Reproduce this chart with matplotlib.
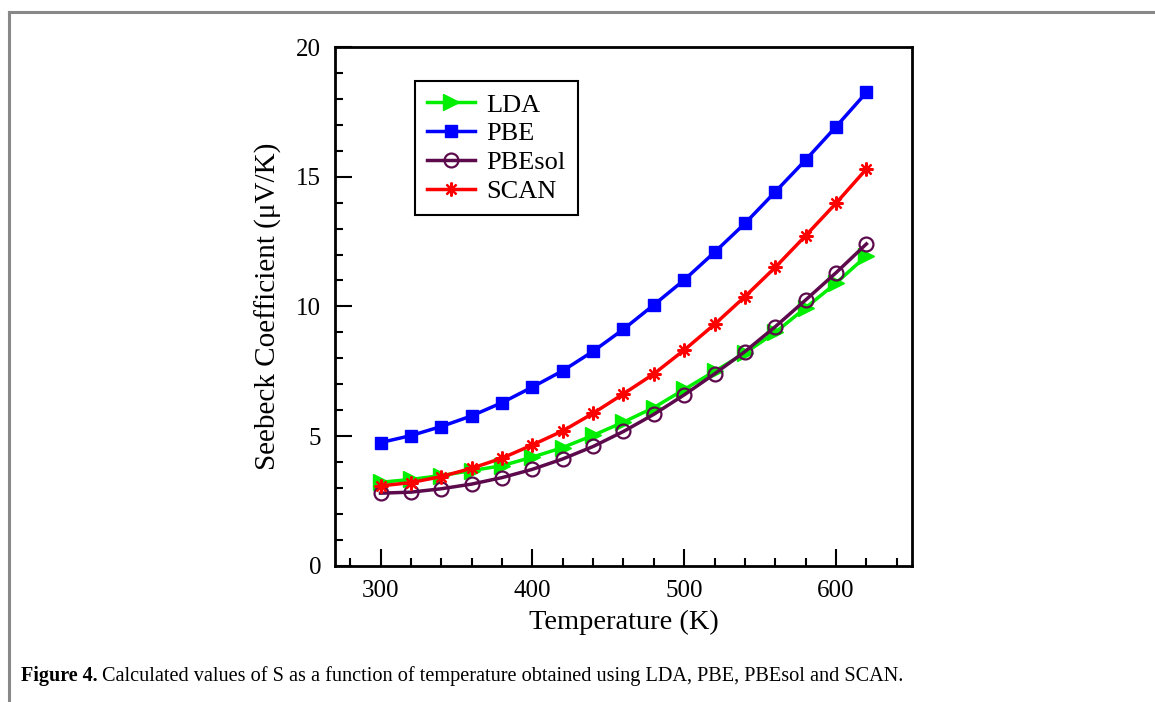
import matplotlib.pyplot as plt
from matplotlib.ticker import MultipleLocator
from matplotlib.lines import Line2D

plt.rcParams['font.family'] = ['Liberation Serif', 'DejaVu Serif']
plt.rcParams['mathtext.fontset'] = 'stix'

temperature = [300, 320, 340, 360, 380, 400, 420, 440, 460, 480, 500, 520, 540, 560, 580, 600, 620]

lda = [3.22, 3.33, 3.48, 3.67, 3.86, 4.19, 4.56, 5.03, 5.54, 6.1, 6.8, 7.5, 8.2, 9.0, 9.95, 10.9, 11.95]
pbe = [4.75, 5.02, 5.37, 5.78, 6.29, 6.89, 7.52, 8.27, 9.12, 10.06, 11.02, 12.09, 13.2, 14.42, 15.65, 16.93, 18.25]
pbesol = [2.8, 2.84, 2.97, 3.15, 3.4, 3.72, 4.12, 4.6, 5.18, 5.84, 6.59, 7.4, 8.26, 9.22, 10.25, 11.3, 12.41]
scan = [3.08, 3.21, 3.44, 3.76, 4.15, 4.66, 5.2, 5.88, 6.63, 7.4, 8.32, 9.31, 10.38, 11.51, 12.73, 13.98, 15.3]

fig = plt.figure(figsize=(11.55, 7.02), dpi=100)
ax = fig.add_axes([0.290, 0.194, 0.4996, 0.739])

ax.plot(temperature, lda, color='#00ee00', lw=2.5, marker='>', ms=12, label='LDA')
ax.plot(temperature, pbe, color='#0000ff', lw=2.5, marker='s', ms=8, label='PBE')
ax.plot(temperature, pbesol, color='#5c0a4c', lw=2.5, marker='o', ms=10,
        mfc='none', mew=1.6, label='PBEsol')
ax.plot(temperature, scan, color='#ff0000', lw=2.5, marker=(8, 2, 0), ms=10,
        mew=1.6, label='SCAN')

ax.set_xlim(270, 650)
ax.set_ylim(0, 20)
ax.xaxis.set_major_locator(MultipleLocator(100))
ax.xaxis.set_minor_locator(MultipleLocator(20))
ax.yaxis.set_major_locator(MultipleLocator(5))
ax.yaxis.set_minor_locator(MultipleLocator(1))
ax.tick_params(which='both', direction='in', top=False, right=False, width=1.5)
ax.tick_params(which='major', length=12, labelsize=18, pad=10)
ax.tick_params(which='minor', length=6)
for s in ax.spines.values():
    s.set_linewidth(2)

ax.set_xlabel('Temperature (K)', fontsize=20.5, labelpad=6)
ax.set_ylabel('Seebeck Coefficient (μV/K)', fontsize=21, labelpad=10)

leg = ax.legend(loc='upper left', bbox_to_anchor=(0.139, 0.934), borderaxespad=0,
                fontsize=19, fancybox=False, edgecolor='black', framealpha=1,
                handlelength=1.8, handletextpad=0.45, labelspacing=0.2,
                borderpad=0.45)
leg.get_frame().set_linewidth(1.5)

# page frame
fig.add_artist(Line2D([0.008, 0.008], [0, 0.983], color='#888888', lw=2.2))
fig.add_artist(Line2D([0.008, 1], [0.983, 0.983], color='#888888', lw=2.2))

fig.text(0.018, 0.03, 'Figure 4.', fontsize=14.5, fontweight='bold')
fig.text(0.0885, 0.03, 'Calculated values of S as a function of temperature obtained using LDA, PBE, PBEsol and SCAN.',
         fontsize=14.6)

fig.savefig('out.png', dpi=100)
